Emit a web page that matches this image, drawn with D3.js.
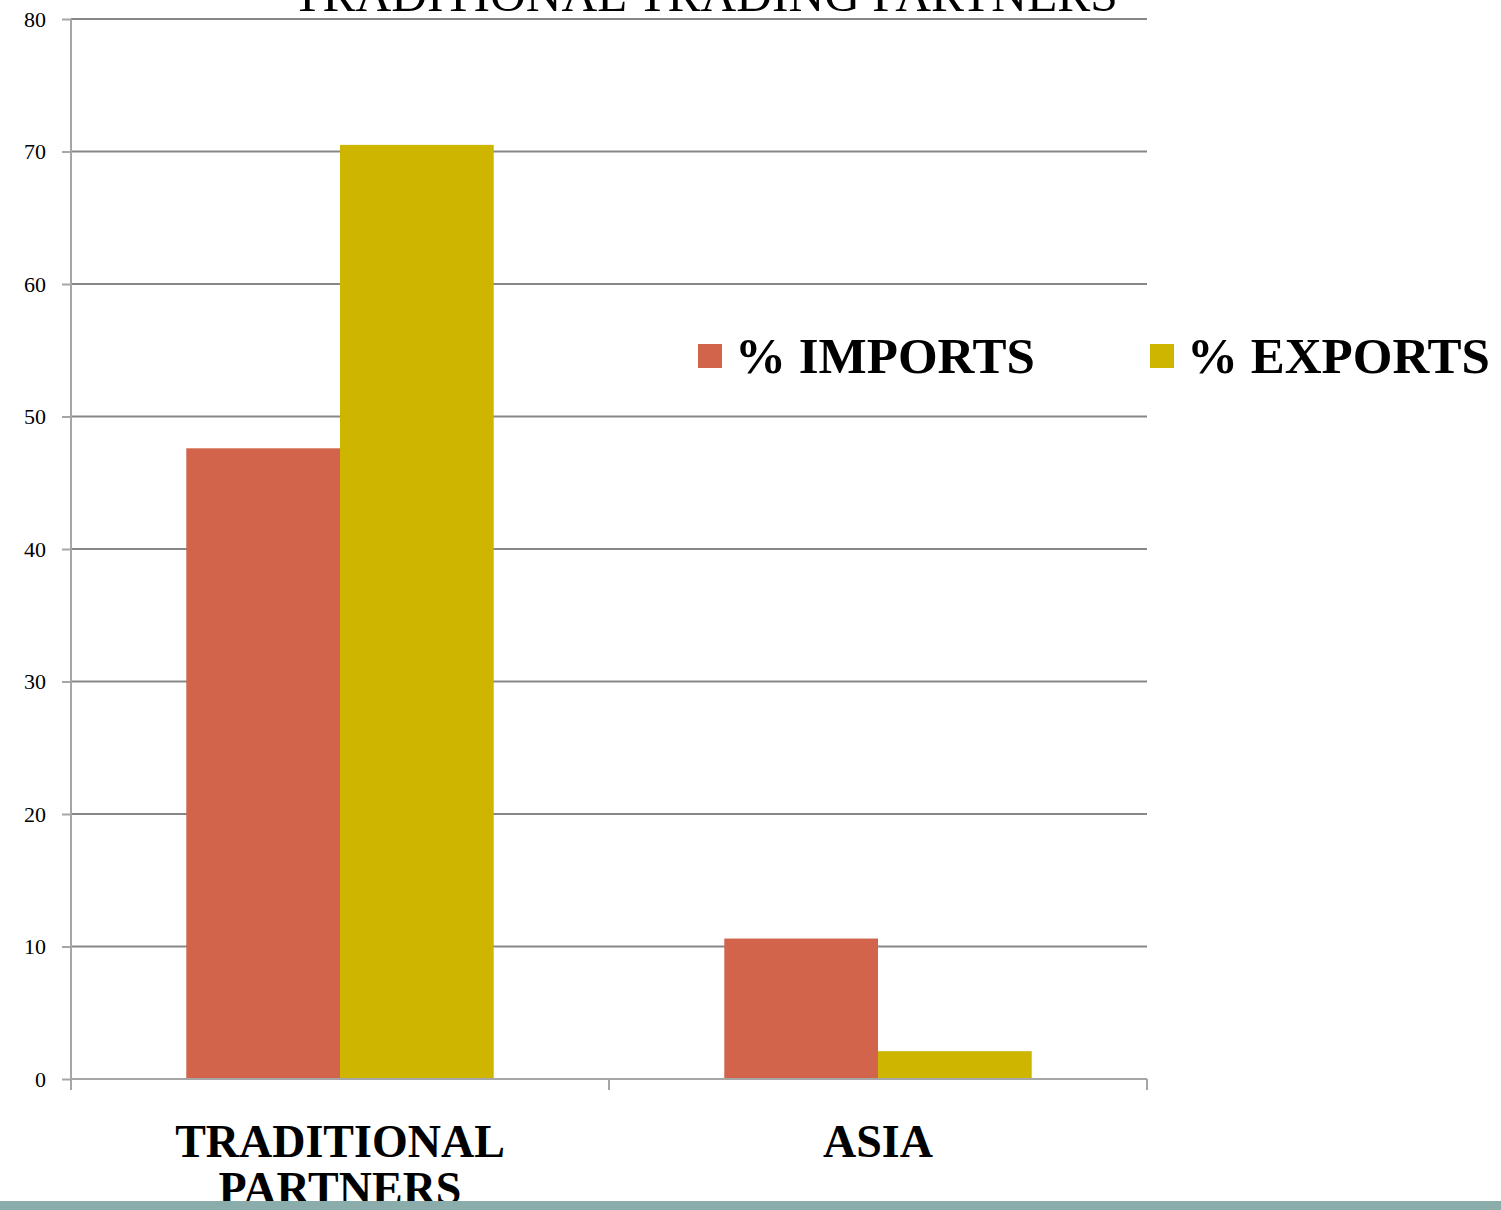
<!DOCTYPE html>
<html>
<head>
<meta charset="utf-8">
<script src="https://cdn.jsdelivr.net/npm/d3@7"></script>
<style>
  body { margin: 0; background: #fff; }
  svg { display: block; }
</style>
</head>
<body>
<svg width="1501" height="1210"></svg>
<script>
var categories = ["TRADITIONAL PARTNERS", "ASIA"];
var seriesNames = ["% IMPORTS", "% EXPORTS"];
var imports = [47.6, 10.6];
var exports = [70.5, 2.1];
var yTicks = [0, 10, 20, 30, 40, 50, 60, 70, 80];
var chartTitle = "TRADITIONAL TRADING PARTNERS";

var svg = d3.select("svg"),
    margin = {top: 19, right: 354, bottom: 131, left: 71},
    width = +svg.attr("width") - margin.left - margin.right,
    height = +svg.attr("height") - margin.top - margin.bottom,
    g = svg.append("g").attr("transform", "translate(" + margin.left + "," + margin.top + ")");

var color = d3.scaleOrdinal().domain(seriesNames).range(["#d1644b", "#cdb500"]);

var rows = categories.map(function (c, i) {
    return {cat: c, values: [imports[i], exports[i]]};
});

var x0 = d3.scaleBand().domain(categories).range([0, width]).paddingInner(0).paddingOuter(0);
var x1 = d3.scaleBand().domain(seriesNames).range([0, x0.bandwidth()]).paddingInner(0).paddingOuter(0.75);
var y = d3.scaleLinear().domain([0, 80]).range([height, 0]);

// bottom band
svg.append("rect")
    .attr("x", 0).attr("y", 1201)
    .attr("width", 1501).attr("height", 9)
    .attr("fill", "#8aadab");

// gridlines
g.append("g")
    .selectAll("line")
    .data(yTicks.filter(function (d) { return d > 0; }))
    .enter().append("line")
    .attr("x1", 0).attr("x2", width)
    .attr("y1", function (d) { return y(d); })
    .attr("y2", function (d) { return y(d); })
    .attr("stroke", "#878787")
    .attr("stroke-width", 2);

// bars
var grp = g.selectAll(".grp")
    .data(rows)
    .enter().append("g")
    .attr("class", "grp")
    .attr("transform", function (d) { return "translate(" + x0(d.cat) + ",0)"; });

grp.selectAll("rect")
    .data(function (d) { return d.values.map(function (v, i) { return {key: seriesNames[i], value: v}; }); })
    .enter().append("rect")
    .attr("x", function (d) { return x1(d.key); })
    .attr("width", x1.bandwidth())
    .attr("y", function (d) { return y(d.value); })
    .attr("height", function (d) { return height - y(d.value); })
    .attr("fill", function (d) { return color(d.key); });

// y axis
var yAxis = g.append("g")
    .call(d3.axisLeft(y).tickValues(yTicks).tickSize(9).tickPadding(16))
    .style("font-family", "'Liberation Serif', serif")
    .style("font-size", "22px");
yAxis.selectAll("line").attr("stroke", "#a6a6a6").attr("stroke-width", 2);
yAxis.select(".domain").attr("stroke", "#a6a6a6").attr("stroke-width", 2)
    .attr("d", "M0," + (height + 11) + "V0");
yAxis.selectAll("text").attr("fill", "#000");

// x axis
var xAxis = g.append("g")
    .attr("transform", "translate(0," + height + ")");
xAxis.append("line")
    .attr("x1", 0).attr("x2", width)
    .attr("stroke", "#a6a6a6").attr("stroke-width", 2);
xAxis.selectAll(".tk")
    .data([0, x0.bandwidth(), width])
    .enter().append("line")
    .attr("class", "tk")
    .attr("x1", function (d) { return d; }).attr("x2", function (d) { return d; })
    .attr("y1", 0).attr("y2", 11)
    .attr("stroke", "#a6a6a6").attr("stroke-width", 2);

var xl = xAxis.selectAll(".xl")
    .data(categories)
    .enter().append("text")
    .attr("class", "xl")
    .attr("text-anchor", "middle")
    .attr("x", function (d) { return x0(d) + x0.bandwidth() / 2; })
    .style("font-family", "'Liberation Serif', serif")
    .style("font-weight", "bold")
    .style("font-size", "46px");
xl.each(function (d) {
    var words = d.split(" ");
    var t = d3.select(this);
    words.forEach(function (w, i) {
        t.append("tspan")
            .attr("x", t.attr("x"))
            .attr("y", 78 + i * 47)
            .text(w);
    });
});

// title (clipped at top)
svg.append("text")
    .attr("x", margin.left + 634)
    .attr("y", 11)
    .attr("text-anchor", "middle")
    .style("font-family", "'Liberation Serif', serif")
    .style("font-size", "49.5px")
    .text(chartTitle);

// legend
var legendX = [698, 1150];
var legend = svg.selectAll(".lg")
    .data(seriesNames)
    .enter().append("g")
    .attr("class", "lg")
    .attr("transform", function (d, i) { return "translate(" + legendX[i] + ",344)"; });
legend.append("rect")
    .attr("width", 24).attr("height", 24)
    .attr("fill", function (d) { return color(d); });
legend.append("text")
    .attr("x", 37).attr("y", 29)
    .style("font-family", "'Liberation Serif', serif")
    .style("font-weight", "bold")
    .style("font-size", "51px")
    .text(function (d) { return d; });
</script>
</body>
</html>
